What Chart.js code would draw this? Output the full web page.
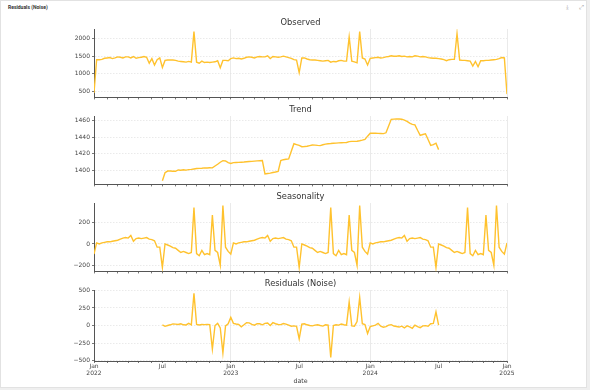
<!DOCTYPE html>
<html><head><meta charset="utf-8">
<script src="https://cdn.jsdelivr.net/npm/chart.js@4.4.0/dist/chart.umd.min.js"></script>
<style>
html,body{margin:0;padding:0;background:#efefef;width:590px;height:390px;overflow:hidden;font-family:"DejaVu Sans",sans-serif}
#card{position:absolute;left:0;top:0;width:587px;height:388px;background:#fff;border:1px solid #e2e2e2;box-sizing:border-box}
#hdr{position:absolute;left:7px;top:3px;font:bold 5px Roboto,sans-serif;color:#333}
.ic{position:absolute;top:2px;font:6px "DejaVu Sans",sans-serif;color:#9a9a9a}
canvas{position:absolute;left:0}
</style></head>
<body>
<div id="card">
  <div id="hdr">Residuals (Noise)</div>
  <div class="ic" style="left:565px">⤓</div>
  <div class="ic" style="left:578px">⤢</div>
</div>
<canvas id="c1"></canvas>
<canvas id="c2"></canvas>
<canvas id="c3"></canvas>
<canvas id="c4"></canvas>
<script>
// ---- weekly periods (week ending Sunday), index 0 = week of 2 Jan 2022 ... 157 = week of 5 Jan 2025
const nWeeks = 158;

// x-axis ticks (week index of the period containing the 1st of the month)
const majorTickWeeks = [0, 26, 52, 78, 105, 131, 157];
const majorTickLabels = [['Jan','2022'], 'Jul', ['Jan','2023'], 'Jul', ['Jan','2024'], 'Jul', ['Jan','2025']];
const janTickWeeks = [0, 52, 105, 157];
const minorTickWeeks = [5,9,13,17,22,31,35,39,44,48,57,61,65,70,74,83,87,91,96,100,109,113,118,122,126,135,139,144,148,152];

// y ticks
const observedTicks = [500, 1000, 1500, 2000];
const trendTicks = [1400, 1420, 1440, 1460];
const seasonTicks = [-200, 0, 200];
const residTicks = [-500, -250, 0, 250, 500];

// panel titles
const panelTitles = ['Observed', 'Trend', 'Seasonality', 'Residuals (Noise)'];
const xAxisTitle = 'date';

// ---- series
const observed = [
  450,1400,1400,1410,1440,1450,1460,1430,1450,1480,
  1470,1450,1480,1480,1450,1490,1440,1460,1470,1490,
  1470,1300,1430,1250,1400,1450,1180,1380,1390,1390,
  1390,1380,1360,1350,1340,1330,1350,1330,2200,1330,
  1300,1360,1320,1330,1320,1330,1340,1370,1170,1380,
  1380,1370,1430,1450,1430,1440,1420,1440,1470,1480,
  1470,1450,1480,1490,1480,1480,1510,1430,1490,1480,
  1470,1480,1500,1480,1460,1440,1400,1390,1030,1450,
  1450,1420,1400,1390,1390,1380,1370,1360,1370,1380,
  1330,1350,1340,1370,1380,1360,1360,2050,1360,1340,
  1310,2200,1450,1420,1250,1440,1450,1460,1470,1450,
  1460,1480,1490,1510,1500,1500,1510,1490,1500,1480,
  1490,1480,1510,1500,1480,1490,1480,1460,1450,1440,
  1440,1430,1420,1400,1370,1400,1410,1410,2140,1390,
  1380,1380,1370,1360,1220,1350,1200,1370,1370,1380,
  1380,1390,1400,1410,1430,1460,1450,420
];

const trend = [
  null,null,null,null,null,null,null,null,null,null,
  null,null,null,null,null,null,null,null,null,null,
  null,null,null,null,null,null,
  1388,1397.5,1399.5,1399.6,1399.3,1399.2,1400.8,1400.5,1401,1400.6,
  1401.2,1401.5,1402,1402.5,1402.7,1402.8,1403.2,1403.2,1403.4,1403.3,
  1405.5,1407.6,1410,1411.9,1411.5,1409.5,1408.5,1409.5,1409.7,1409.8,
  1410,1410.2,1410.5,1410.8,1411,1411.3,1411.6,1411.8,1412,1396,
  1396.5,1397,1397.7,1398.3,1399,1412,1413,1413.5,1414,1423,
  1432,1431,1430,1428.5,1428.7,1429,1429.8,1430.5,1430.3,1430,
  1429.8,1430.8,1431.5,1432,1432.2,1432.5,1432.7,1433,1433.2,1433.3,
  1433.5,1434.5,1434.8,1434.8,1435,1435.5,1436.3,1437.2,1441,1444.5,
  1444.6,1444.5,1444.3,1444.2,1444,1445,1453,1461,1461.3,1461.5,
  1461.4,1461.2,1460,1458.5,1456.5,1455,1454.5,1448,1442,1443,
  1443.8,1437,1430,1431,1432.6,1425,
  null,null,null,null,null,null,null,null,null,null,
  null,null,null,null,null,null,null,null,null,null,
  null,null,null,null,null,null
];

const seasonal = [
  -95,10,0,10,15,20,20,25,30,35,45,55,60,55,80,25,50,55,50,55,60,45,40,30,-30,-30,
  -220,0,-10,-20,-35,-40,-60,-80,-70,-80,-90,-80,340,-90,-110,-60,-100,-90,-100,270,-60,-80,-200,360,-30,-70,
  -95,10,0,10,15,20,20,25,30,35,45,55,60,55,80,25,50,55,50,55,60,45,40,30,-30,-30,
  -220,0,-10,-20,-35,-40,-60,-80,-70,-80,-90,-80,340,-90,-110,-60,-100,-90,-100,270,-60,-80,-200,360,-30,-70,
  -95,10,0,10,15,20,20,25,30,35,45,55,60,55,80,25,50,55,50,55,60,45,40,30,-30,-30,
  -220,0,-10,-20,-35,-40,-60,-80,-70,-80,-90,-80,340,-90,-110,-60,-100,-90,-100,270,-60,-80,-200,360,-30,-70,
  -95,10
];

const residual = [
  null,null,null,null,null,null,null,null,null,null,
  null,null,null,null,null,null,null,null,null,null,
  null,null,null,null,null,null,
  10,-12,0,10,22,20,15,25,10,8,
  30,10,460,15,8,15,12,15,12,-335,
  0,30,-35,-390,-5,25,118,30,22,15,
  -18,10,40,38,15,5,25,25,10,30,
  35,0,40,25,15,12,28,20,5,-10,
  -5,-12,-190,20,25,10,0,-5,5,10,
  0,-8,10,5,-455,0,10,5,20,10,
  5,335,-5,-10,55,400,25,12,-115,-15,
  -5,5,30,-10,-25,-15,5,12,-8,-15,
  -22,-10,-35,-5,-20,-40,5,-15,-30,-5,
  -2,-10,25,30,195,5,
  null,null,null,null,null,null,null,null,null,null,
  null,null,null,null,null,null,null,null,null,null,
  null,null,null,null,null,null
];

// ---- drawing
const LINE = '#ffc22e';
const TXT = '#444';
const AXIS = '#555';
const GRID = '#e4e4e4';
const FONT = '"DejaVu Sans", sans-serif';

const titlePlugin = {
  id: 'panelTitle',
  afterDraw(chart, args, opts) {
    const ca = chart.chartArea, ctx = chart.ctx;
    ctx.save();
    ctx.fillStyle = '#333';
    ctx.textAlign = 'center';
    ctx.textBaseline = 'middle';
    ctx.font = '8.3px ' + FONT;
    ctx.fillText(opts.text, (ca.left + ca.right) / 2, ca.top - 6.5);
    if (opts.xTitle) {
      ctx.font = '6.3px ' + FONT;
      ctx.fillStyle = TXT;
      ctx.fillText(opts.xTitle, (ca.left + ca.right) / 2, ca.bottom + 20.5);
    }
    ctx.restore();
  }
};

function fmt(v) { return String(v).replace('-', '\u2212'); }

function makePanel(id, plotTop, plotH, title, series, yMin, yMax, yTicks, isBottom) {
  const padTop = 14;
  const xH = isBottom ? 28 : 3;
  const h = padTop + plotH + xH;
  const cv = document.getElementById(id);
  cv.width = 590; cv.height = h;
  cv.style.width = '590px'; cv.style.height = h + 'px';
  cv.style.top = (plotTop - padTop) + 'px';
  const pts = series.map((v, i) => ({x: i, y: v}));
  const allTicks = majorTickWeeks.concat(minorTickWeeks).sort((a, b) => a - b);
  new Chart(cv, {
    type: 'line',
    data: { datasets: [{ data: pts, borderColor: LINE, borderWidth: 1.4, pointRadius: 0, tension: 0, spanGaps: false, fill: false }] },
    options: {
      responsive: false, animation: false, devicePixelRatio: 1,
      layout: { padding: { top: padTop, right: 83, left: 0, bottom: 0 } },
      plugins: { legend: { display: false }, tooltip: { enabled: false }, title: { display: false },
                 panelTitle: { text: title, xTitle: isBottom ? xAxisTitle : null } },
      scales: {
        x: {
          type: 'linear', min: 0, max: nWeeks - 1,
          afterBuildTicks(s) { s.ticks = allTicks.map(v => ({ value: v })); },
          afterFit(s) { s.height = xH; s.paddingLeft = 0; s.paddingRight = 0; },
          ticks: {
            display: isBottom, autoSkip: false, maxRotation: 0, minRotation: 0, padding: 0,
            color: TXT, font: { family: FONT, size: 6 },
            callback(v) { const k = majorTickWeeks.indexOf(v); return k >= 0 ? majorTickLabels[k] : ''; }
          },
          grid: {
            drawTicks: true, tickLength: 2, tickWidth: 0.8, tickColor: AXIS, lineWidth: 0.8,
            color(c) { return (c.tick && janTickWeeks.includes(c.tick.value)) ? GRID : 'rgba(0,0,0,0)'; }
          },
          border: { display: true, color: AXIS, width: 1 }
        },
        y: {
          min: yMin, max: yMax,
          afterBuildTicks(s) { s.ticks = yTicks.map(v => ({ value: v })); },
          afterFit(s) { s.width = 94; },
          ticks: { color: TXT, font: { family: FONT, size: 6 }, padding: 2, callback: v => fmt(v) },
          grid: { drawTicks: true, tickLength: 2, tickWidth: 0.8, tickColor: AXIS, color: GRID, lineWidth: 0.8 },
          border: { display: true, color: AXIS, width: 1, dash: [1.5, 1.5] }
        }
      }
    },
    plugins: [titlePlugin]
  });
}

makePanel('c1', 29, 71, panelTitles[0], observed, 326, 2274, observedTicks, false);
makePanel('c2', 116, 71, panelTitles[1], trend, 1383.6, 1465, trendTicks, false);
makePanel('c3', 203, 71, panelTitles[2], seasonal, -257, 383.5, seasonTicks, false);
makePanel('c4', 290, 71, panelTitles[3], residual, -506, 506, residTicks, true);
</script>
</body></html>
